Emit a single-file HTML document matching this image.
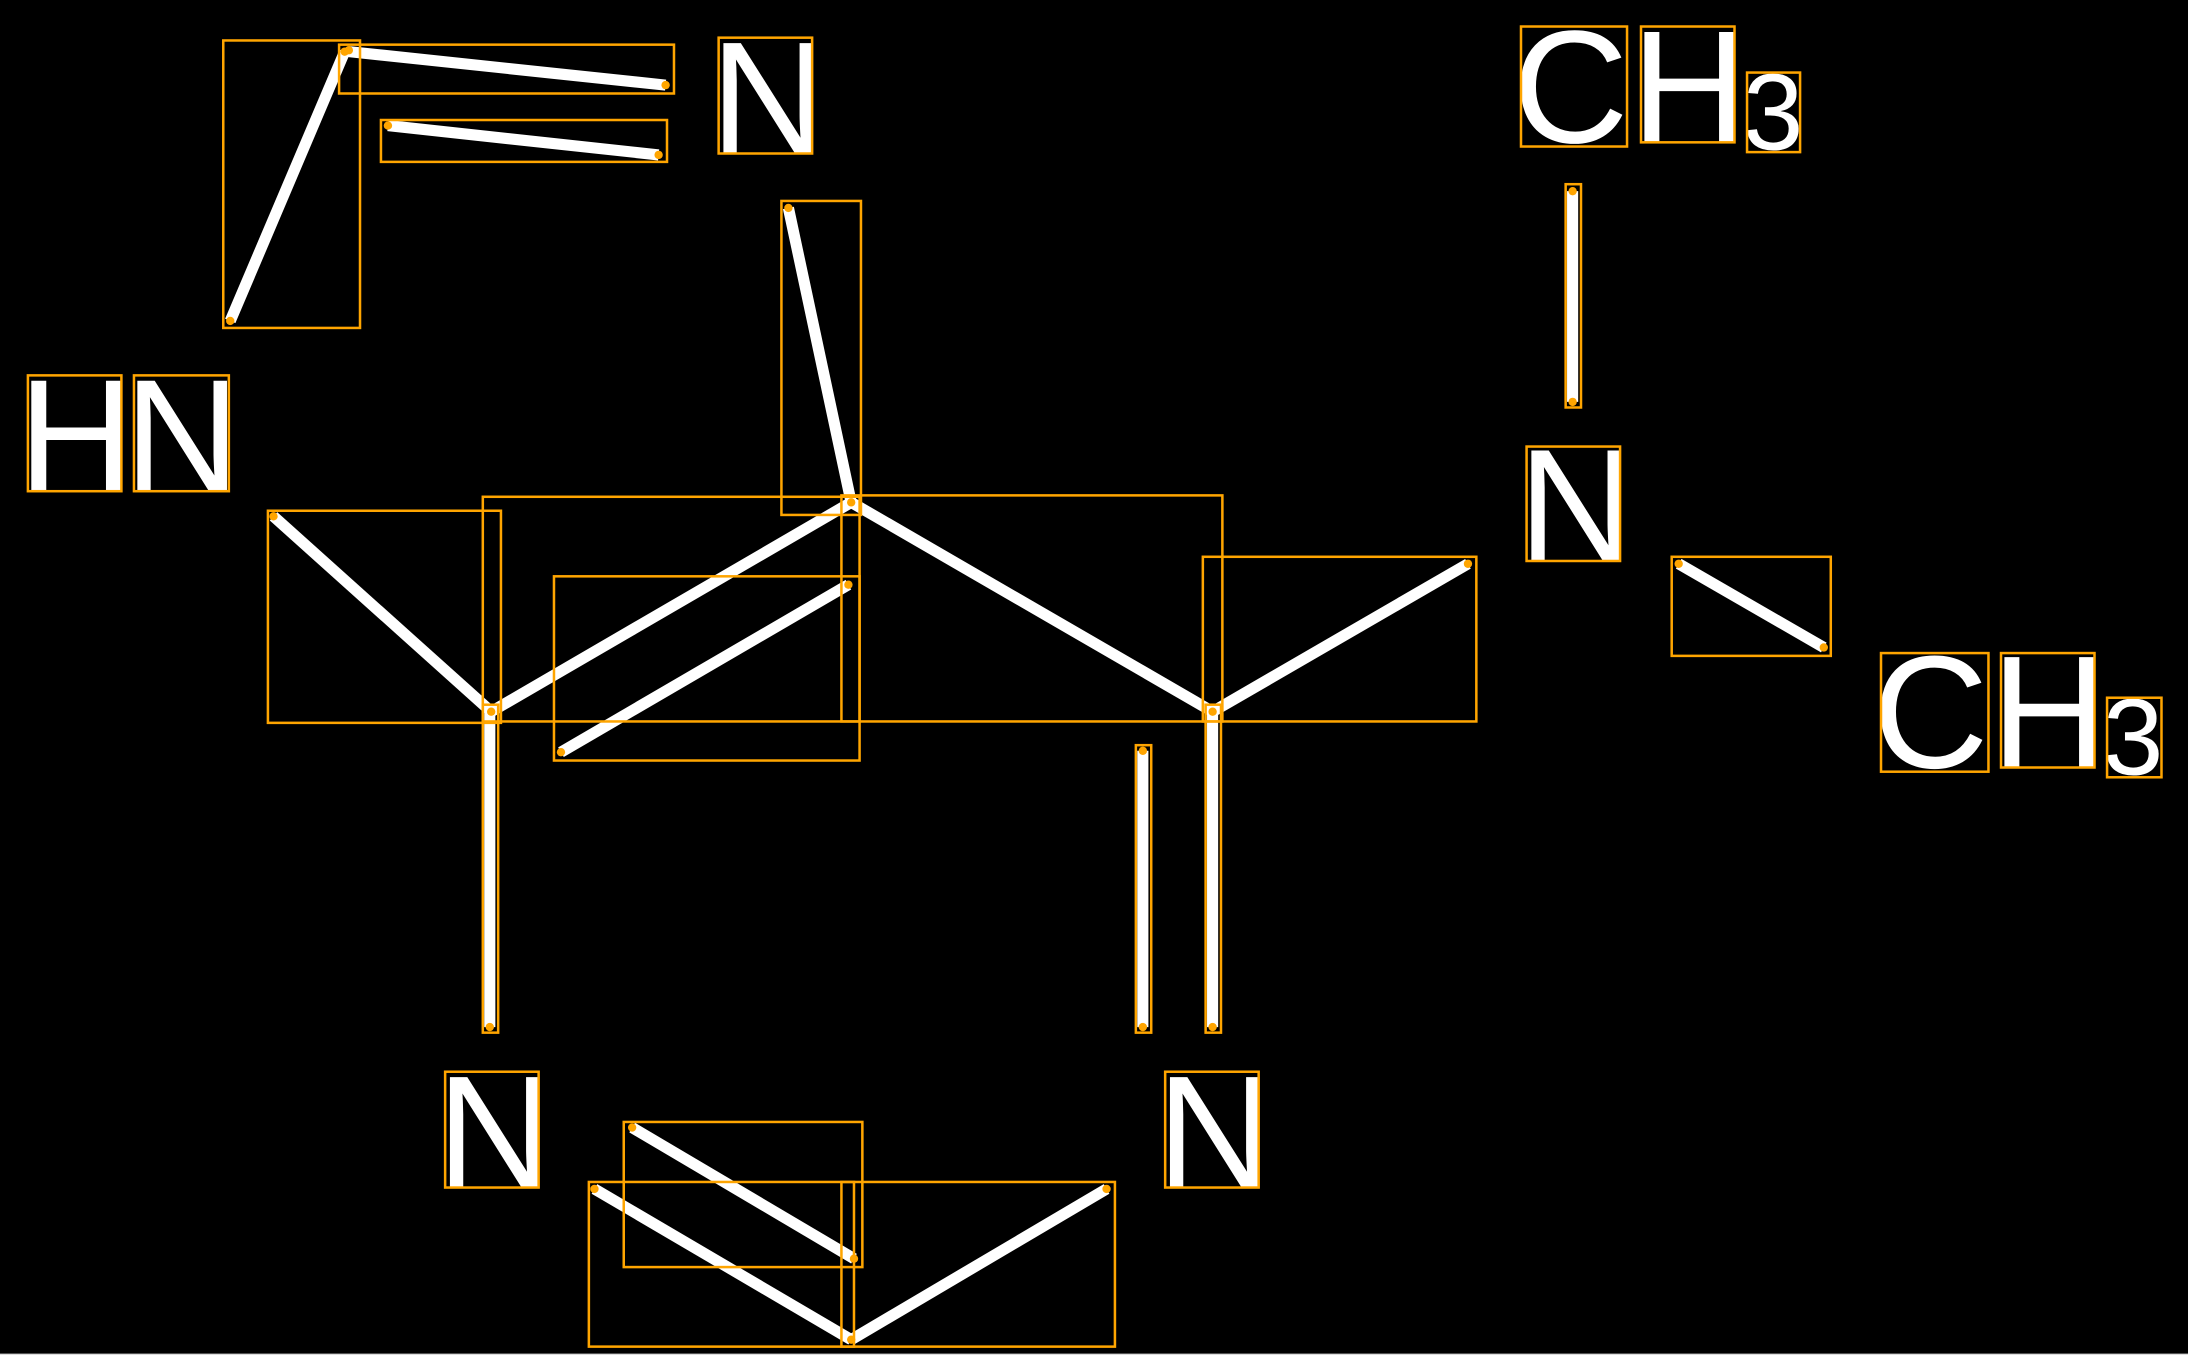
<!DOCTYPE html>
<html><head><meta charset="utf-8"><style>
html,body{margin:0;padding:0;background:#000;width:2188px;height:1355px;overflow:hidden}
svg{display:block}
text{font-family:"Liberation Sans",sans-serif;fill:#fff}
</style></head><body>
<svg width="2188" height="1355" viewBox="0 0 1568 971" preserveAspectRatio="none" xmlns="http://www.w3.org/2000/svg">
<rect width="1568" height="971" fill="#000"/>
<line x1="0" y1="970.5" x2="1568" y2="970.5" stroke="#ddd" stroke-width="1"/>
<g stroke="#fff" stroke-width="8" stroke-linecap="butt">
<line x1="165" y1="230" x2="247" y2="37"/>
<line x1="250" y1="37" x2="477" y2="61"/>
<line x1="278" y1="90" x2="472" y2="111"/>
<line x1="565" y1="149" x2="610" y2="360"/>
<line x1="610" y1="360" x2="352" y2="510"/>
<line x1="402" y1="539" x2="608" y2="419"/>
<line x1="196" y1="370" x2="352" y2="510"/>
<line x1="610" y1="360" x2="869" y2="510"/>
<line x1="869" y1="510" x2="1052" y2="404"/>
<line x1="1127" y1="137" x2="1127" y2="288"/>
<line x1="1203" y1="404" x2="1307" y2="464"/>
<line x1="351" y1="510" x2="351" y2="736"/>
<line x1="819" y1="538" x2="819" y2="736"/>
<line x1="869" y1="510" x2="869" y2="736"/>
<line x1="453" y1="808" x2="612" y2="902"/>
<line x1="426" y1="852" x2="610" y2="960"/>
<line x1="610" y1="960" x2="793" y2="852"/>
</g>
<g font-size="115">
<text x="509" y="110">N</text>
<text x="13" y="352">H</text>
<text x="89" y="352">N</text>
<text x="1084" y="102">C</text>
<text x="1169" y="102">H</text>
<text x="1088" y="402">N</text>
<text x="1342" y="550">C</text>
<text x="1427" y="550">H</text>
<text x="313" y="851">N</text>
<text x="829" y="851">N</text>
</g>
<g font-size="78">
<text x="1249" y="107">3</text>
<text x="1507" y="555">3</text>
</g>
<g fill="none" stroke="#ffa500" stroke-width="1.8">
<rect x="160" y="29" width="98" height="206"/>
<rect x="243" y="32" width="240" height="35"/>
<rect x="273" y="86" width="205" height="30"/>
<rect x="560" y="144" width="57" height="225"/>
<rect x="346" y="356" width="270" height="161"/>
<rect x="603" y="355" width="273" height="162"/>
<rect x="397" y="413" width="219" height="132"/>
<rect x="192" y="366" width="167" height="152"/>
<rect x="862" y="399" width="196" height="118"/>
<rect x="1122" y="132" width="11" height="160"/>
<rect x="1198" y="399" width="114" height="71"/>
<rect x="346" y="505" width="11" height="235"/>
<rect x="814" y="534" width="11" height="206"/>
<rect x="864" y="505" width="11" height="235"/>
<rect x="447" y="804" width="171" height="104"/>
<rect x="422" y="847" width="190" height="118"/>
<rect x="603" y="847" width="196" height="118"/>
<rect x="515" y="27" width="67" height="83"/>
<rect x="20" y="269" width="67" height="83"/>
<rect x="96" y="269" width="68" height="83"/>
<rect x="1090" y="19" width="76" height="86"/>
<rect x="1176" y="19" width="67" height="83"/>
<rect x="1252" y="52" width="38" height="57"/>
<rect x="1094" y="320" width="67" height="82"/>
<rect x="1348" y="468" width="77" height="85"/>
<rect x="1434" y="468" width="67" height="82"/>
<rect x="1510" y="500" width="39" height="57"/>
<rect x="319" y="768" width="67" height="83"/>
<rect x="835" y="768" width="67" height="83"/>
</g>
<g fill="#ffa500">
<circle cx="165" cy="230" r="3"/><circle cx="247" cy="37" r="3"/>
<circle cx="250" cy="36" r="3"/><circle cx="477" cy="61" r="3"/>
<circle cx="278" cy="90" r="3"/><circle cx="472" cy="111" r="3"/>
<circle cx="565" cy="149" r="3"/><circle cx="610" cy="360" r="3"/>
<circle cx="352" cy="510" r="3"/><circle cx="402" cy="539" r="3"/>
<circle cx="608" cy="419" r="3"/><circle cx="196" cy="370" r="3"/>
<circle cx="869" cy="510" r="3"/><circle cx="1052" cy="404" r="3"/>
<circle cx="1127" cy="137" r="3"/><circle cx="1127" cy="288" r="3"/>
<circle cx="1203" cy="404" r="3"/><circle cx="1307" cy="464" r="3"/>
<circle cx="351" cy="736" r="3"/><circle cx="819" cy="538" r="3"/>
<circle cx="819" cy="736" r="3"/><circle cx="869" cy="736" r="3"/>
<circle cx="453" cy="808" r="3"/><circle cx="612" cy="902" r="3"/>
<circle cx="426" cy="852" r="3"/><circle cx="610" cy="960" r="3"/>
<circle cx="793" cy="852" r="3"/>
</g>
</svg>
</body></html>
